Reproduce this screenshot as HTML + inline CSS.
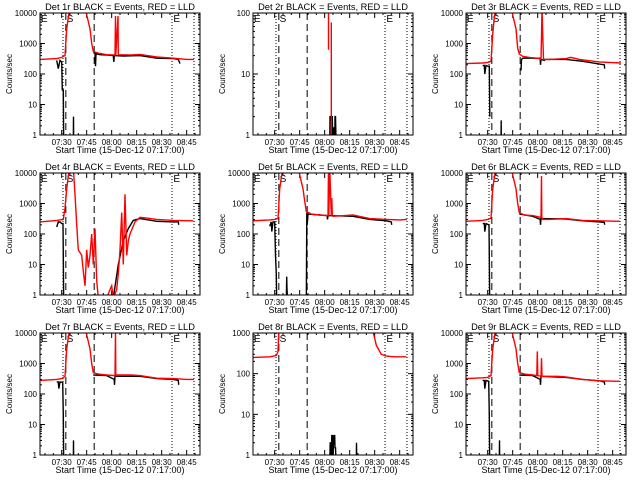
<!DOCTYPE html>
<html><head><meta charset="utf-8"><style>
html,body{margin:0;padding:0;background:#fff;}
svg{display:block;font-family:"Liberation Sans",sans-serif;}
</style></head><body>
<svg id="chart" width="640" height="480" viewBox="0 0 640 480"></svg>
<script>
// minutes since 07:17:00, null = gap
const panelTitles = ["Det 1r","Det 2r","Det 3r","Det 4r","Det 5r","Det 6r","Det 7r","Det 8r","Det 9r"];
const panelDecades = [4,2,4,4,4,4,4,3,4];
const tickLabels = ["07:30","07:45","08:00","08:15","08:30","08:45"];
const tickMinutes = [13,28,43,58,73,88];
const markerLines = [13.8,15.5,32.5,79.2,92.4];
const markerStyles = ["dot","dash","dash","dot","dot"];

const red1T=[0,10,13,15,16,17,18,27,30,31,32,35,40,45,45.3,45.5,46.8,47,47.3,55,60,70,80,88,92.4];
const red1V=[300,320,350,400,3000,7000,15000,15000,3000,1000,550,480,430,420,8000,420,8000,420,430,420,440,360,330,300,300];
const blk1T=[10,11,12,13,13.4,14,14.2,null,20,20.1,20.2,null,32,33,33.3,33.6,36,40,44,44.3,44.6,50,60,70,80,83,84];
const blk1V=[280,150,280,250,30,30,0.5,null,0.5,4,0.5,null,500,480,180,460,430,420,400,250,400,390,400,330,320,300,220];

const red2T=[45.3,45.3,null,47,47];
const red2V=[25,200,null,0.5,70];
const blk2T=[46,46.2,46.5,47,47.3,47.6,48,48.2,48.5,49,49.2,49.5,50];
const blk2V=[0.5,2,2,1.7,2,2,0.5,1.3,1.3,0.5,2,2,0.5];

const red3T=[0,10,13,15,16,17,18,27,30,31,32,34,38,43,45,45.4,45.6,46,46.5,50,60,63,68,80,93];
const red3V=[220,230,240,260,2000,7000,15000,15000,3000,700,450,380,350,330,300,3500,15000,2000,300,300,320,350,300,250,230];
const blk3T=[10,11,11.3,12,13,14,14.3,null,21,21.1,21.2,null,33,33.3,34,40,44.5,44.7,45,47,47.2,60,70,83,83.2];
const blk3V=[190,190,100,190,180,180,4,null,0.5,3,0.5,null,130,300,330,330,330,200,300,280,300,300,260,200,150];

const red4T=[0,10,14,15,16,17,18,20,21,22,23,25,26,27,28,29,30,31,32,33,34,35,40,42,43,44,46,47,48,49,50,51,52,53,54,57,60,63,70,80,92];
const red4V=[250,280,300,700,3000,8000,15000,15000,2000,200,30,20,6,2,30,8,20,100,10,150,3,0.8,0.8,1.5,2,0.8,1.5,5,30,500,10,2000,20,60,100,250,350,340,300,280,270];
const blk4T=[10,11,11.3,12,13,13.8,14,14.2,null,44,47,50,53,56,60,70,80,83,83.2];
const blk4V=[170,250,240,250,220,220,20,0.5,null,0.8,10,60,150,280,320,260,250,250,200];

const red5T=[0,10,13,15,16,17,18,27,30,31,32,35,40,45,45.3,45.5,46,47,47.3,47.6,48,55,60,70,80,88,92.4];
const red5V=[270,290,300,320,3000,7000,15000,15000,3000,1200,550,450,420,400,15000,400,15000,400,1500,400,380,400,420,320,300,290,300];
const blk5T=[10,11,11.3,12,13,13.5,14,14.2,null,20,20.2,20.4,21,null,32,32.3,32.5,33,40,44.5,44.7,45,60,70,80,83,83.2];
const blk5V=[180,250,120,250,250,20,5,0.5,null,0.5,4,1.5,0.5,null,0.5,500,200,450,420,400,300,400,380,300,270,250,200];

const red6T=[0,10,13,15,16,17,18,27,30,31,32,35,40,45,45.3,45.5,46,50,60,70,80,92.4];
const red6V=[260,280,300,330,3000,7000,15000,15000,3000,1000,500,420,400,350,8000,350,300,300,320,280,270,260];
const blk6T=[10,11,11.3,12,13.8,14,14.2,null,32,40,44.5,44.7,45,60,70,80,83,83.2];
const blk6V=[220,220,120,220,200,20,0.5,null,450,380,300,200,320,310,270,250,240,200];

const red7T=[0,10,13,15,16,17,18,27,30,31,32,35,40,45,45.3,45.5,46,55,60,70,80,88,92.4];
const red7V=[280,300,320,380,3000,7000,15000,15000,3000,1000,500,450,420,400,10000,400,420,420,400,330,320,300,300];
const blk7T=[10,11,11.3,12,13.6,14,14.2,null,20,20.1,20.2,null,32,40,44.5,44.7,45,60,70,80,83,83.2];
const blk7V=[250,250,150,250,240,20,0.5,null,0.5,3,0.5,null,420,400,300,200,380,380,320,300,280,200];

const red8T=[0,10,14,15,15.5,16,null,71.5,72,74,77,80,85,92];
const red8V=[250,260,280,350,1200,2000,null,2000,1100,500,300,270,260,260];
const blk8T=[46,46.3,46.6,47,47.3,47.6,48,48.2,48.5,49,49.2,49.5,50,null,62,62.1,62.3];
const blk8V=[0.5,2,2,0.5,3,3,0.5,1.5,3,3,1.5,1.5,0.5,null,0.5,2,0.5];

const red9T=[0,10,13,15,16,17,18,27,30,31,32,35,40,42.5,42.8,43.1,45,45.3,45.6,46,55,60,70,80,92.4];
const red9V=[320,340,350,400,3000,7000,15000,15000,3000,1000,500,450,420,400,2500,400,380,1500,380,380,380,360,300,270,260];
const blk9T=[10,11,11.3,12,13.6,14,14.2,null,20,20.1,20.2,null,32,40,44.5,44.7,45,60,70,80,83,83.2];
const blk9V=[280,280,150,280,260,20,0.5,null,0.5,3,0.5,null,420,400,300,200,380,350,300,270,250,200];

const redT=[red1T,red2T,red3T,red4T,red5T,red6T,red7T,red8T,red9T];
const redV=[red1V,red2V,red3V,red4V,red5V,red6V,red7V,red8V,red9V];
const blkT=[blk1T,blk2T,blk3T,blk4T,blk5T,blk6T,blk7T,blk8T,blk9T];
const blkV=[blk1V,blk2V,blk3V,blk4V,blk5V,blk6V,blk7V,blk8V,blk9V];

const NS="http://www.w3.org/2000/svg";
const svg=document.getElementById('chart');
function mk(tag,attrs,parent){const e=document.createElementNS(NS,tag);for(const k in attrs)e.setAttribute(k,attrs[k]);(parent||svg).appendChild(e);return e;}

for(let p=0;p<9;p++){
  const ox=(p%3)*213, oy=Math.floor(p/3)*160;
  const x0=ox+40,x1=ox+200,y0=oy+13,y1=oy+135;
  const dec=panelDecades[p];
  const xs=t=>x0+t*(x1-x0)/96;
  const ys=v=>y1-Math.log10(v)/dec*(y1-y0);
  const g=mk('g',{});
  
  
  const cp=mk('clipPath',{id:'cp'+p},g);
  mk('rect',{x:x0,y:y0,width:x1-x0,height:y1-y0},cp);
  const tt=mk('text',{x:ox+120,y:oy+10,'text-anchor':'middle','font-size':'9.3'},g);
  tt.textContent=panelTitles[p]+" BLACK = Events, RED = LLD";
  
  
  const yl=mk('text',{x:ox+12,y:oy+74,'text-anchor':'middle','font-size':'8',transform:`rotate(-90 ${ox+12} ${oy+74})`},g);
  yl.textContent="Counts/sec";
  
  
  const xl=mk('text',{x:ox+120,y:oy+153,'text-anchor':'middle','font-size':'9'},g);
  xl.textContent="Start Time (15-Dec-12 07:17:00)";
  
  
  for(let d=0;d<=dec;d++){
    const y=ys(Math.pow(10,d));
    mk('line',{x1:x0,x2:x0+5,y1:y,y2:y,stroke:'#000'},g);
    mk('line',{x1:x1,x2:x1-5,y1:y,y2:y,stroke:'#000'},g);
    const lab=mk('text',{x:x0-3,y:y+3,'text-anchor':'end','font-size':'8'},g);
    lab.textContent=String(Math.pow(10,d));
    
    
    if(d<dec)for(let m=2;m<10;m++){const ym=ys(m*Math.pow(10,d));
      mk('line',{x1:x0,x2:x0+2,y1:ym,y2:ym,stroke:'#000'},g);
      mk('line',{x1:x1,x2:x1-2,y1:ym,y2:ym,stroke:'#000'},g);}
  }
  for(let t=3;t<96;t+=5){const x=xs(t);const maj=tickMinutes.includes(t);
    mk('line',{x1:x,x2:x,y1:y1,y2:y1-(maj?5:2),stroke:'#000'},g);
    mk('line',{x1:x,x2:x,y1:y0,y2:y0+(maj?5:2),stroke:'#000'},g);}
  tickLabels.forEach((s,i)=>{const l=mk('text',{x:xs(tickMinutes[i]),y:oy+145,'text-anchor':'middle','font-size':'8'},g);l.textContent=s;
    
    });
  markerLines.forEach((t,i)=>{const l=mk('line',{x1:xs(t),x2:xs(t),y1:y0,y2:y1,stroke:'#000','stroke-width':1,'stroke-dasharray':markerStyles[i]=='dot'?'1,2':'7,4'},g);
    
    });
  [['E',0.5],['S',16],['E',80]].forEach(([s,t])=>{const l=mk('text',{x:xs(t),y:y0+9,'font-size':'10'},g);l.textContent=s;
    
    });
  function path(T,V){let d='',pen=false;for(let i=0;i<T.length;i++){if(T[i]===null){pen=false;continue;}
    const x=xs(T[i]).toFixed(1),y=ys(Math.max(V[i],0.01)).toFixed(1);d+=(pen?'L':'M')+x+' '+y+' ';pen=true;}return d;}
  const bp=mk('path',{d:path(blkT[p],blkV[p]),fill:'none',stroke:'#000','stroke-width':1.4,'clip-path':`url(#cp${p})`},g);
  
  
  const rp=mk('path',{d:path(redT[p],redV[p]),fill:'none',stroke:'#f00','stroke-width':1.4,'clip-path':`url(#cp${p})`},g);
  
  
  const box=mk('rect',{x:x0,y:y0,width:x1-x0,height:y1-y0,fill:'none',stroke:'#000','stroke-width':1},g);
  
  
}
</script>
</body></html>
